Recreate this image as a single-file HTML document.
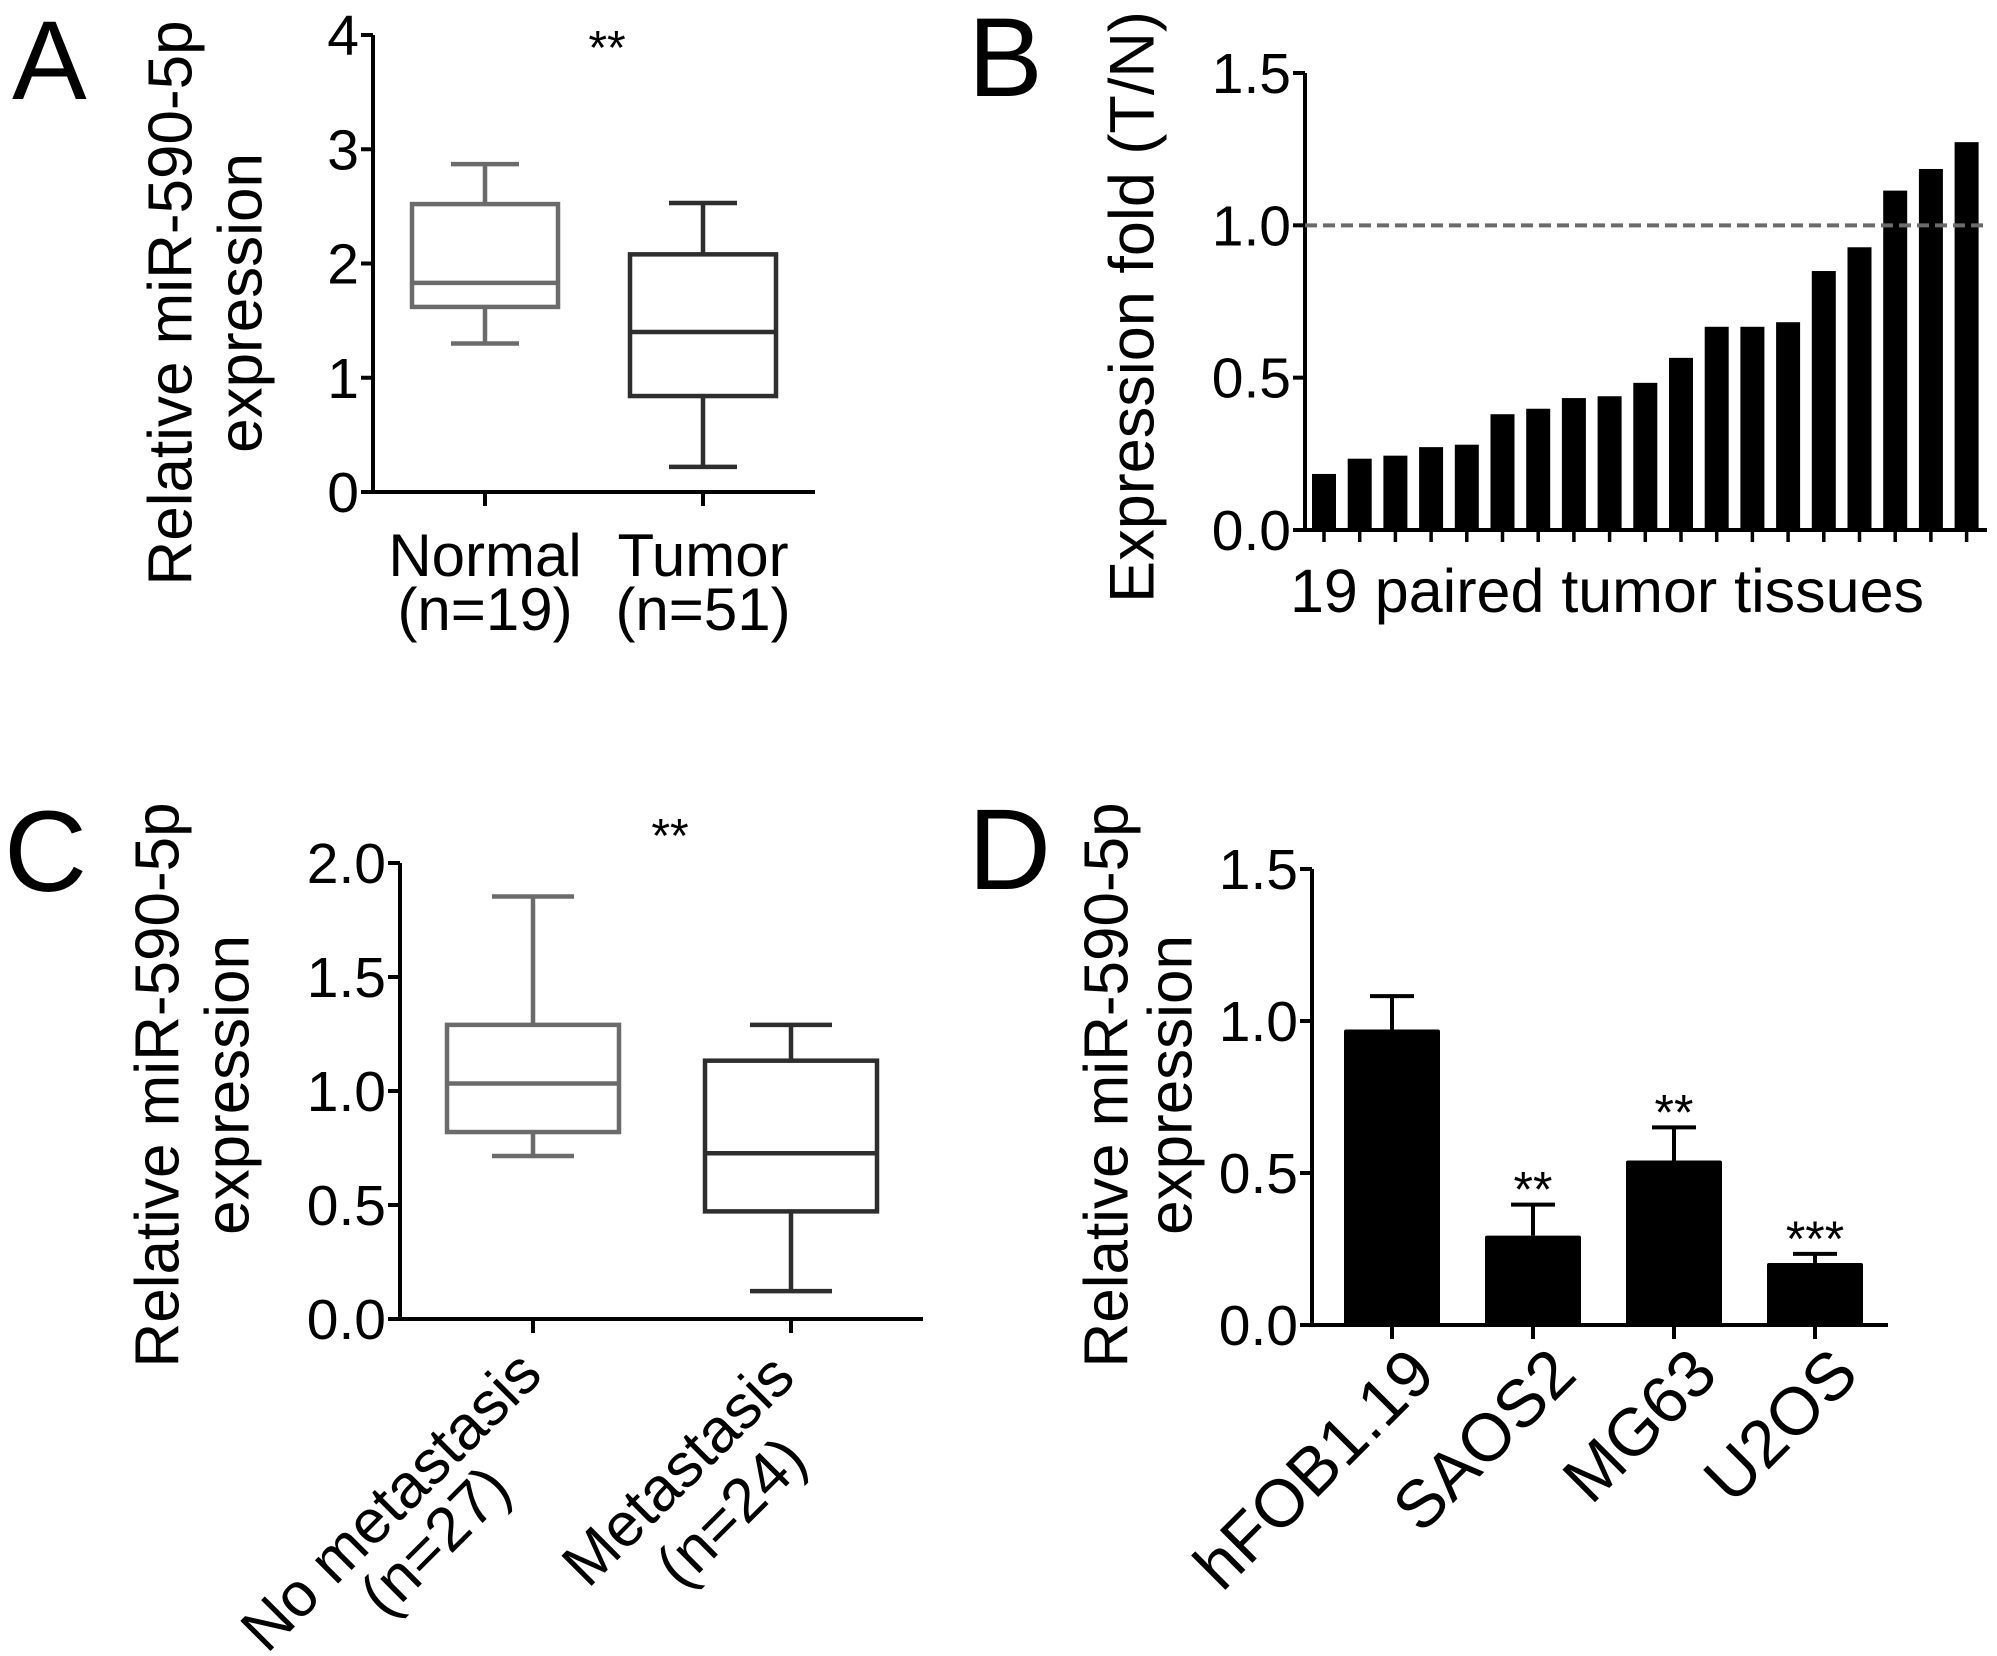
<!DOCTYPE html>
<html><head><meta charset="utf-8"><style>
html,body{margin:0;padding:0;background:#fff;}
svg{display:block;}
text{font-family:"Liberation Sans",Arial,sans-serif;fill:#000;}
</style></head><body>
<svg id="fig" width="1997" height="1656" viewBox="0 0 1997 1656" xmlns="http://www.w3.org/2000/svg"></svg>
<script>
// Panel A (box plot)
const aGroups = ["Normal", "Tumor"];
const aSub = ["(n=19)", "(n=51)"];
const aMax = [2.87, 2.53];
const aQ3 = [2.52, 2.08];
const aMed = [1.83, 1.40];
const aQ1 = [1.62, 0.84];
const aMin = [1.30, 0.22];
const aTicks = ["0", "1", "2", "3", "4"];
const aTickVals = [0, 1, 2, 3, 4];
// Panel B (bars)
const bValues = [0.184, 0.234, 0.244, 0.272, 0.28, 0.38, 0.398, 0.433, 0.439, 0.483, 0.565, 0.667, 0.667, 0.682, 0.85, 0.928, 1.114, 1.185, 1.273];
const bTicks = ["0.0", "0.5", "1.0", "1.5"];
const bTickVals = [0, 0.5, 1.0, 1.5];
const bRef = 1.0;
// Panel C (box plot)
const cGroups = ["No metastasis", "Metastasis"];
const cSub = ["(n=27)", "(n=24)"];
const cMax = [1.853, 1.29];
const cQ3 = [1.29, 1.133];
const cMed = [1.033, 0.727];
const cQ1 = [0.82, 0.472];
const cMin = [0.715, 0.122];
const cTicks = ["0.0", "0.5", "1.0", "1.5", "2.0"];
const cTickVals = [0, 0.5, 1.0, 1.5, 2.0];
// Panel D (bars with error)
const dCats = ["hFOB1.19", "SAOS2", "MG63", "U2OS"];
const dValues = [0.972, 0.294, 0.541, 0.204];
const dErr = [0.11, 0.102, 0.109, 0.03];
const dStars = ["", "**", "**", "***"];
const dTicks = ["0.0", "0.5", "1.0", "1.5"];
const dTickVals = [0, 0.5, 1.0, 1.5];

const NS = "http://www.w3.org/2000/svg";
const svg = document.getElementById('fig');
function mk(tag, attrs, parent){
  const e = document.createElementNS(NS, tag);
  for (const k in attrs) e.setAttribute(k, attrs[k]);
  (parent||svg).appendChild(e);
  return e;
}
function line(x1,y1,x2,y2,stroke,w,p,dash){
  const l = mk('line',{x1:x1,y1:y1,x2:x2,y2:y2,stroke:stroke,'stroke-width':w},p);
  if(dash) l.setAttribute('stroke-dasharray',dash);
  
  
  return l;
}
function txt(str,x,y,size,anchor,p){
  const t = mk('text',{x:x,y:y,'font-size':size,'text-anchor':anchor||'start'},p);
  t.textContent = str;
  return t;
}
function rtxt(str,x,y,size,anchor,deg,p,dy){
  const g = mk('g',{transform:`translate(${x},${y}) rotate(${deg})`},p);
  const t = mk('text',{x:0,y:0,dy:dy||'0','font-size':size,'text-anchor':anchor||'middle'},g);
  t.textContent = str;
  return t;
}
function panel(name){
  const g = mk('g',{});
  
  
  return g;
}
function yAxis(g, ax, y0, y1, vMax, vals, labels, xEnd){
  const sc = v => y0 - (y0-y1)*v/vMax;
  const axl = line(ax, y1, ax, y0+2, '#000', 4, g);
  
  const xl = line(ax-2, y0, xEnd, y0, '#000', 4, g);
  
  vals.forEach((v,i)=>{
    const tk = line(ax-12, sc(v), ax, sc(v), '#000', 4, g);
    
    const t = txt(labels[i], ax-14, sc(v)+20, 57, 'end', g);
    
    
  });
  return sc;
}
function boxes(g, sc, centers, half, cap, mx, q3, md, q1, mn, colors, y0){
  centers.forEach((cx,i)=>{
    const c = colors[i];
    const bg = mk('g',{},g);
    
    
    line(cx, sc(mx[i]), cx, sc(q3[i]), c, 4.5, bg);
    line(cx, sc(q1[i]), cx, sc(mn[i]), c, 4.5, bg);
    line(cx-cap, sc(mx[i]), cx+cap, sc(mx[i]), c, 4.5, bg);
    line(cx-cap, sc(mn[i]), cx+cap, sc(mn[i]), c, 4.5, bg);
    const r = mk('rect',{x:cx-half,y:sc(q3[i]),width:2*half,height:sc(q1[i])-sc(q3[i]),fill:'none',stroke:c,'stroke-width':4.5},bg);
    
    
    line(cx-half, sc(md[i]), cx+half, sc(md[i]), c, 4.5, bg);
    const tk = line(cx, y0, cx, y0+14, '#000', 4, g);
    
  });
}

// ---------- Panel A ----------
(function(){
  const g = panel('panel-a');
  const lab = txt('A', 12, 99, 112, 'start', g); 
  const sc = yAxis(g, 373, 492, 35, 4, aTickVals, aTicks, 815);
  const centers = [485, 703];
  boxes(g, sc, centers, 73, 34, aMax, aQ3, aMed, aQ1, aMin, ['#6b6b6b','#2e2e2e'], 492);
  centers.forEach((cx,i)=>{
    const t1 = txt(aGroups[i], cx, 576, 60, 'middle', g); 
    const t2 = txt(aSub[i], cx, 630, 60, 'middle', g); 
  });
  const st = txt('**', 607, 64, 48, 'middle', g); 
  const t1 = rtxt('Relative miR-590-5p', 169, 303, 62, 'middle', -90, g, '0.36em'); 
  const t2 = rtxt('expression', 239, 303, 62, 'middle', -90, g, '0.36em'); 
})();

// ---------- Panel B ----------
(function(){
  const g = panel('panel-b');
  const lab = txt('B', 968, 96, 112, 'start', g); 
  const sc = yAxis(g, 1305, 530, 73, 1.5, bTickVals, bTicks, 1987);
  const x0 = 1324, pitch = 35.7, bw = 24;
  bValues.forEach((v,i)=>{
    const cx = x0 + i*pitch;
    const r = mk('rect',{x:cx-bw/2,y:sc(v),width:bw,height:sc(0)-sc(v),fill:'#000'},g);
    
    
    const tk = line(cx, 530, cx, 542, '#000', 3.5, g);
    
  });
  const rl = line(1305, sc(bRef), 1985, sc(bRef), '#6b6b6b', 4, g, '12 6');
  
  const xt = txt('19 paired tumor tissues', 1290, 612, 61, 'start', g);
  
  const yt = rtxt('Expression fold (T/N)', 1131, 307, 63, 'middle', -90, g, '0.36em');
  
})();

// ---------- Panel C ----------
(function(){
  const g = panel('panel-c');
  const lab = txt('C', 4, 891, 115, 'start', g); 
  const sc = yAxis(g, 400, 1319, 863, 2.0, cTickVals, cTicks, 923);
  const centers = [533, 791];
  boxes(g, sc, centers, 86, 41, cMax, cQ3, cMed, cQ1, cMin, ['#6b6b6b','#2e2e2e'], 1319);
  const l1 = rtxt(cGroups[0], 390, 1500, 62, 'middle', -45, g, '0.36em'); 
  const l2 = rtxt(cSub[0], 434, 1540, 62, 'middle', -45, g, '0.36em'); 
  const l3 = rtxt(cGroups[1], 677, 1469, 62, 'middle', -45, g, '0.36em'); 
  const l4 = rtxt(cSub[1], 730, 1511, 62, 'middle', -45, g, '0.36em'); 
  const st = txt('**', 670, 852, 48, 'middle', g); 
  const t1 = rtxt('Relative miR-590-5p', 156, 1085, 62, 'middle', -90, g, '0.36em'); 
  const t2 = rtxt('expression', 226, 1085, 62, 'middle', -90, g, '0.36em'); 
})();

// ---------- Panel D ----------
(function(){
  const g = panel('panel-d');
  const lab = txt('D', 968, 889, 115, 'start', g); 
  const sc = yAxis(g, 1312, 1325, 869, 1.5, dTickVals, dTicks, 1888);
  const x0 = 1392, pitch = 141, bw = 96;
  dCats.forEach((c,i)=>{
    const cx = x0 + i*pitch;
    const r = mk('rect',{x:cx-bw/2,y:sc(dValues[i]),width:bw,height:sc(0)-sc(dValues[i]),fill:'#000',rx:2},g);
    
    
    const top = dValues[i]+dErr[i];
    line(cx, sc(dValues[i]), cx, sc(top), '#000', 4, g);
    line(cx-22, sc(top), cx+22, sc(top), '#000', 4, g);
    const tk = line(cx, 1325, cx, 1339, '#000', 4, g);
    
    if (dStars[i]) {
      const st = txt(dStars[i], cx, sc(top)+2, 50, 'middle', g);
      
    }
    const lb = rtxt(c, cx+12, 1343, 67, 'end', -45, g, '0.72em');
    
  });
  const t1 = rtxt('Relative miR-590-5p', 1105, 1085, 62, 'middle', -90, g, '0.36em'); 
  const t2 = rtxt('expression', 1169, 1085, 62, 'middle', -90, g, '0.36em'); 
})();
</script>
</body></html>
